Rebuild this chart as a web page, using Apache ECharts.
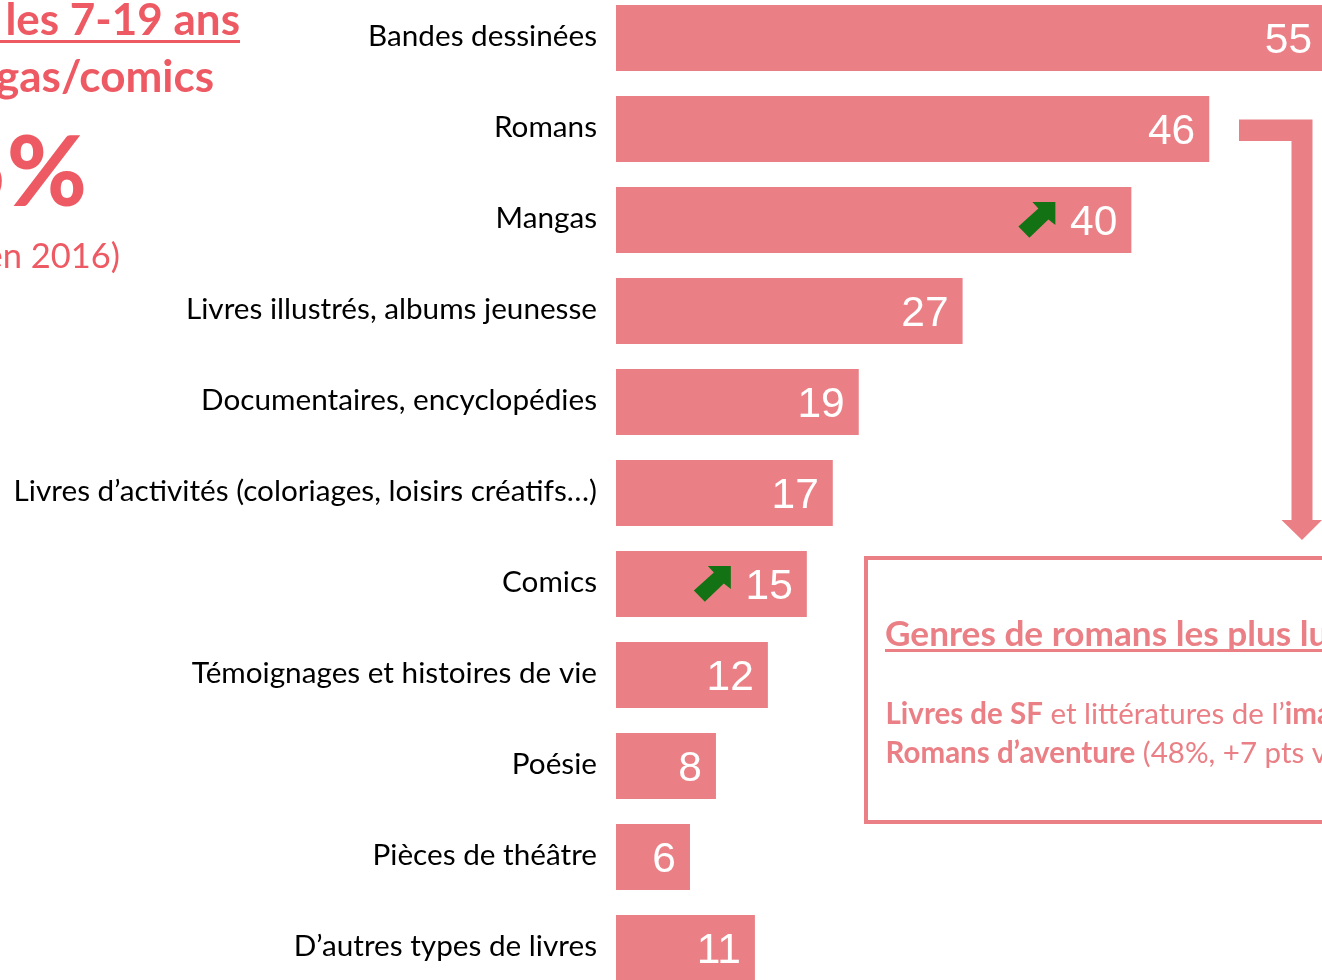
<!DOCTYPE html>
<html lang="fr">
<head>
<meta charset="utf-8">
<title>Livres lus par les 7-19 ans</title>
<script src="https://cdn.jsdelivr.net/npm/echarts@6/dist/echarts.min.js"></script>
<style>
    html, body { margin: 0; padding: 0; background: #fff; overflow: hidden; }
    #chart-container { width: 1322px; height: 980px; }
</style>
</head>
<body>
<div id="chart-container"></div>
<script>
const categories = [
    'Bandes dessinées',
    'Romans',
    'Mangas',
    'Livres illustrés, albums jeunesse',
    'Documentaires, encyclopédies',
    'Livres d’activités (coloriages, loisirs créatifs…)',
    'Comics',
    'Témoignages et histoires de vie',
    'Poésie',
    'Pièces de théâtre',
    'D’autres types de livres'
];
const values = [55, 46, 40, 27, 19, 17, 15, 12, 8, 6, 11];
// categories flagged with a green up arrow
const risingCategories = ['Mangas', 'Comics'];

const BAR_COLOR = '#ea8086';
const TITLE_COLOR = '#ee5a63';
const GREEN = '#137213';
const TEXT_FONT = 'Lato, "Noto Sans", sans-serif';

const chart = echarts.init(document.getElementById('chart-container'), null, { renderer: 'canvas' });

// arrow outline, relative to the end of the bar and its middle
const arrowShape = [[-76, -18], [-99, -18], [-93, -11.5], [-113, 6.5], [-102, 17.8], [-83, -0.5], [-76, 5]];

function renderArrow(params, api) {
    const end = api.coord([api.value(0), api.value(1)]);
    return {
        type: 'polygon',
        shape: { points: arrowShape.map(function (p) { return [end[0] + p[0], end[1] + p[1]]; }) },
        style: { fill: GREEN }
    };
}

function sideText(text, x, y, size, weight, align, color) {
    return {
        type: 'text',
        silent: true,
        style: {
            text: text, x: x, y: y, fill: color,
            font: weight + ' ' + size + 'px ' + TEXT_FONT,
            textAlign: align, textVerticalAlign: 'middle'
        }
    };
}

function boxLine(parts, y) {
    return {
        type: 'text',
        silent: true,
        style: {
            x: 885.5, y: y, text: parts,
            fill: BAR_COLOR, textVerticalAlign: 'middle',
            font: '29.5px ' + TEXT_FONT,
            rich: {
                b: { font: 'bold 29.5px ' + TEXT_FONT, fill: BAR_COLOR },
                n: { font: '29.5px ' + TEXT_FONT, fill: BAR_COLOR }
            }
        }
    };
}

const option = {
    animation: false,
    backgroundColor: '#fff',
    // the chart is cropped by the page, so the grid has to run past it
    grid: { left: 616, top: -7.5, width: 775, height: 1001, containLabel: false, outerBoundsMode: 'none' },
    xAxis: { type: 'value', min: 0.3, max: 60, show: false },
    yAxis: {
        type: 'category',
        data: categories,
        inverse: true,
        axisLine: { show: false },
        axisTick: { show: false },
        axisLabel: {
            margin: 19,
            formatter: '{a|{value}}',
            rich: {
                a: {
                    color: '#000',
                    fontFamily: TEXT_FONT,
                    fontSize: 29.7,
                    lineHeight: 34,
                    padding: [0, 0, 4, 0]
                }
            }
        }
    },
    series: [
        {
            type: 'bar',
            data: values,
            barWidth: 66,
            itemStyle: { color: BAR_COLOR },
            label: {
                show: true,
                position: 'insideRight',
                distance: 14,
                color: '#fff',
                fontFamily: '"Liberation Sans", Arial, sans-serif',
                fontSize: 42.5,
                offset: [0, 3]
            }
        },
        {
            type: 'custom',
            renderItem: renderArrow,
            silent: true,
            data: risingCategories.map(function (c) {
                return [values[categories.indexOf(c)], categories.indexOf(c)];
            }),
            encode: { x: 0, y: 1 },
            z: 5
        }
    ],
    graphic: { elements: [
        // heading, cut by the left side of the page
        sideText('les 7-19 ans', 240, 21, 44, 'bold', 'right', TITLE_COLOR),
        { type: 'rect', silent: true, shape: { x: 0, y: 40, width: 240, height: 3 }, style: { fill: TITLE_COLOR } },
        sideText('gas/comics', 214, 78, 44, 'bold', 'right', TITLE_COLOR),
        sideText('5%', 87, 175, 97, 900, 'right', TITLE_COLOR),
        sideText('en 2016)', 120, 257, 34.5, 'normal', 'right', TITLE_COLOR),

        // connector from "Romans" to the box
        {
            type: 'polygon',
            silent: true,
            shape: { points: [[1239, 119.5], [1312.5, 119.5], [1312.5, 520], [1322, 520], [1302, 540], [1281.5, 520], [1291.5, 520], [1291.5, 141], [1239, 141]] },
            style: { fill: BAR_COLOR }
        },

        // box about the novel genres, running off the right side
        { type: 'rect', silent: true, shape: { x: 866, y: 558, width: 600, height: 264 }, style: { fill: 'none', stroke: BAR_COLOR, lineWidth: 4 } },
        sideText('Genres de romans les plus lus', 885, 634.5, 35.2, 'bold', 'left', BAR_COLOR),
        { type: 'rect', silent: true, shape: { x: 885, y: 649, width: 440, height: 3 }, style: { fill: BAR_COLOR } },
        boxLine('{b|Livres de SF}{n| et littératures de l’}{b|imaginaire}', 714),
        boxLine('{b|Romans d’aventure}{n| (48%, +7 pts vs 2016)}', 753)
    ] }
};
chart.setOption(option);
</script>
</body>
</html>
